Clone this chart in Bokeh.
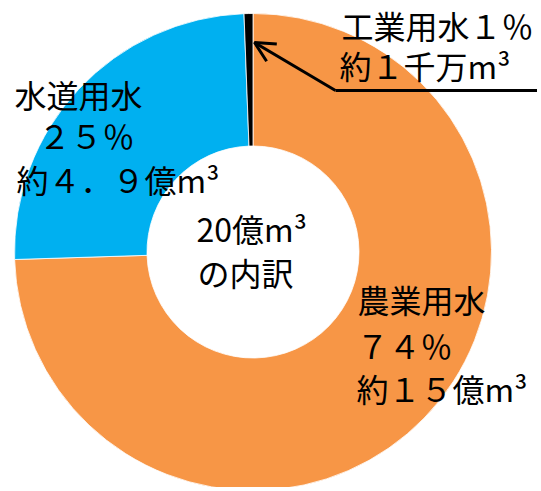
import math
from bokeh.plotting import figure
from bokeh.models import Range1d, ColumnDataSource, Arrow, OpenHead
from bokeh.core.properties import value
from bokeh.embed import file_html
from bokeh.resources import INLINE

# ---- data ----
categories = ["農業用水", "水道用水", "工業用水"]
shares = [74.5, 24.9, 0.6]          # % of total (clockwise from 12 o'clock)
pct_labels = ["７４％", "２５％", "１％"]
volume_labels = ["約１５億m³", "約４．９億m³", "約１千万m³"]
colors = ["#F79646", "#00B0F0", "#000000"]
total_label = ["20億m³", "の内訳"]

W, H = 537, 487
p = figure(width=W, height=H, output_backend="svg", toolbar_location=None,
           x_range=Range1d(0, W), y_range=Range1d(-H, 0),
           x_axis_type=None, y_axis_type=None, min_border=0)
p.outline_line_color = None
p.grid.visible = False
p.background_fill_color = "white"

def Y(py):
    return -py

cx, cy = 252.5, 251.5
r_in, r_out = 106, 238.5

tot = sum(shares)
starts, ends = [], []
acc = 0.0
for s in shares:
    a0 = math.pi / 2 - acc / tot * 2 * math.pi
    acc += s
    a1 = math.pi / 2 - acc / tot * 2 * math.pi
    starts.append(a0)
    ends.append(a1)

src = ColumnDataSource(dict(cat=categories, start=starts, end=ends, color=colors))
p.annular_wedge(x=cx, y=Y(cy), inner_radius=r_in, outer_radius=r_out,
                start_angle="start", end_angle="end", direction="clock",
                fill_color="color", line_color="white", line_width=0.8, source=src)

# callout line for 工業用水
p.line(x=[545, 335], y=[Y(90), Y(90)], line_color="black", line_width=3)
p.add_layout(Arrow(end=OpenHead(size=20, line_width=3, line_color="black"),
                   x_start=335, y_start=Y(90), x_end=254, y_end=Y(42),
                   line_color="black", line_width=3))

font = value("Noto Sans CJK JP")

def txt(x, py, s, size):
    p.text(x=[x], y=[Y(py)], text=[s], text_font=font, text_font_size=size,
           text_color="black", text_baseline="middle", text_align="left")

LS = "32px"
# 工業用水 label (top right)
txt(341, 24, categories[2] + pct_labels[2], LS)
txt(339, 64, volume_labels[2], LS)
# 水道用水 label (left)
txt(14, 93, categories[1], LS)
txt(38, 134, pct_labels[1], LS)
txt(16, 178, volume_labels[1], LS)
# 農業用水 label (bottom right)
txt(357, 298, categories[0], LS)
txt(356, 344, pct_labels[0], LS)
txt(356, 387, volume_labels[0], LS)
# center
txt(196, 227, total_label[0], "32px")
txt(197, 271, total_label[1], "32px")

open("out.html", "w").write(file_html(p, INLINE))
